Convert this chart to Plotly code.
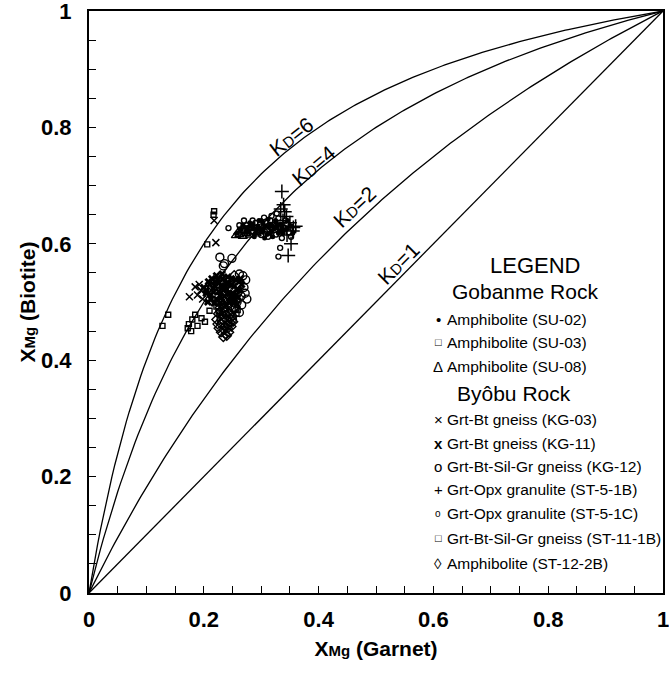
import plotly.graph_objects as go

# ---------------- data ----------------
su02_x = [0.265,0.272,0.278,0.283,0.288,0.294,0.298,0.303,0.308,0.313,0.318,0.323,0.328,0.333,0.338,
          0.290,0.302,0.315,0.325,0.310,0.296,0.280,0.334,0.345,0.320,0.306,
          0.258,0.262,0.268,0.274,0.286,0.292,0.300,0.312,0.320,0.330,0.340,0.350,0.355,0.276,0.288,
          0.304,0.316,0.326,0.336,0.346]
su02_y = [0.625,0.628,0.622,0.630,0.626,0.630,0.625,0.636,0.630,0.628,0.622,0.626,0.630,0.622,0.618,
          0.618,0.620,0.634,0.640,0.616,0.640,0.636,0.634,0.626,0.612,0.610,
          0.618,0.626,0.632,0.620,0.634,0.624,0.640,0.642,0.630,0.618,0.624,0.632,0.618,0.628,0.612,
          0.626,0.618,0.636,0.628,0.640]

su03_x = [0.217,0.218,0.222,0.226,0.232,0.238]
su03_y = [0.650,0.656,0.492,0.484,0.500,0.480]

su08_x = [0.256,0.262,0.268,0.274,0.280,0.286,0.292,0.298,0.270,0.284,0.260,0.304]
su08_y = [0.614,0.616,0.613,0.618,0.615,0.620,0.617,0.622,0.622,0.626,0.620,0.624]

kg03_x = [0.185,0.175,0.189,0.195,0.198,0.218,0.221,0.192]
kg03_y = [0.526,0.509,0.512,0.520,0.505,0.640,0.602,0.530]

kg11_x = [0.205,0.210,0.212,0.216,0.220,0.222,0.226,0.230,0.233,0.236,0.240,0.243,0.246,0.250,0.253,
          0.256,0.260,0.263,0.266,0.228,0.238,0.218,0.248,0.258,0.214,
          0.200,0.204,0.208,0.213,0.219,0.224,0.229,0.234,0.239,0.244,0.249,0.254,0.259,0.264,0.207,
          0.217,0.227,0.237,0.247,0.257,0.222,0.232,0.242,0.252,0.262]
kg11_y = [0.520,0.530,0.512,0.524,0.535,0.505,0.518,0.528,0.540,0.510,0.522,0.532,0.500,0.515,0.527,
          0.538,0.508,0.520,0.530,0.498,0.495,0.498,0.540,0.496,0.540,
          0.525,0.515,0.535,0.505,0.528,0.538,0.510,0.520,0.532,0.515,0.530,0.505,0.522,0.540,0.500,
          0.517,0.533,0.525,0.508,0.512,0.545,0.548,0.543,0.500,0.535]

kg12_x = [0.228,0.249,0.234,0.236,0.273,0.268,0.262,0.270,0.265,0.258,0.255,0.262,0.250,0.245,0.240,
          0.235,0.272,0.230,0.242,0.266,0.258,0.248,0.275]
kg12_y = [0.577,0.575,0.562,0.566,0.538,0.545,0.548,0.525,0.510,0.500,0.490,0.482,0.470,0.480,0.505,
          0.490,0.515,0.470,0.460,0.495,0.530,0.520,0.505]

st51b_x = [0.336,0.339,0.341,0.344,0.338,0.350,0.356,0.360,0.347,0.352,0.330,0.320,0.345,0.355,0.334]
st51b_y = [0.690,0.667,0.655,0.647,0.640,0.636,0.628,0.630,0.580,0.600,0.625,0.630,0.615,0.622,0.660]

st51c_x = [0.243,0.327,0.333,0.330,0.262,0.270,0.280,0.290,0.300,0.310,0.316,0.322,0.305,0.295,0.285,
           0.340,0.348,0.312,0.326,0.336,0.275,0.318,0.300,0.342,0.352,
           0.268,0.284,0.298,0.314,0.330,0.344,0.356,0.292,0.308,0.324]
st51c_y = [0.627,0.652,0.593,0.578,0.632,0.640,0.628,0.636,0.630,0.624,0.640,0.632,0.645,0.620,0.640,
           0.628,0.620,0.612,0.616,0.610,0.632,0.648,0.615,0.640,0.612,
           0.626,0.622,0.634,0.632,0.644,0.634,0.625,0.628,0.638,0.624]

st111b_x = [0.128,0.138,0.172,0.174,0.180,0.189,0.185,0.202,0.257,0.259,0.206,0.178,0.196,0.210]
st111b_y = [0.459,0.478,0.455,0.462,0.470,0.459,0.478,0.466,0.480,0.486,0.599,0.450,0.472,0.485]

st122b_x = [0.253,0.225,0.230,0.235,0.238,0.242,0.246,0.250,0.228,0.240,0.232,0.244,0.236,0.248,0.222,
            0.252,0.226,0.234,0.240,0.245,
            0.228,0.233,0.238,0.243,0.248,0.230,0.236,0.241,0.246,0.251,0.224,0.229,0.234,0.239,0.244]
st122b_y = [0.546,0.480,0.462,0.452,0.445,0.455,0.465,0.475,0.490,0.470,0.478,0.448,0.485,0.458,0.470,
            0.488,0.455,0.468,0.442,0.490,
            0.500,0.495,0.505,0.498,0.502,0.448,0.458,0.462,0.472,0.466,0.462,0.485,0.440,0.478,0.482]

kd_values = [1, 2, 4, 6]
kd_label_pos = {6: (0.353, 0.784, -38), 4: (0.391, 0.735, -40), 2: (0.463, 0.664, -43), 1: (0.539, 0.566, -45)}

x_ticks = [0, 0.2, 0.4, 0.6, 0.8, 1]
x_ticktext = ["0", "0.2", "0.4", "0.6", "0.8", "1"]

legend_rows = [
    ("•", "Amphibolite (SU-02)"),
    ("<span style='font-size:11px'>□</span>", "Amphibolite (SU-03)"),
    ("Δ", "Amphibolite (SU-08)"),
    ("×", "Grt-Bt gneiss (KG-03)"),
    ("<b>x</b>", "Grt-Bt gneiss (KG-11)"),
    ("o", "Grt-Bt-Sil-Gr gneiss (KG-12)"),
    ("+", "Grt-Opx granulite (ST-5-1B)"),
    ("<span style='font-size:10px'>o</span>", "Grt-Opx granulite (ST-5-1C)"),
    ("<span style='font-size:11px'>□</span>", "Grt-Bt-Sil-Gr gneiss (ST-11-1B)"),
    ("◊", "Amphibolite (ST-12-2B)"),
]
legend_row_py = [319, 342, 366, 420, 443, 466, 489, 513, 538, 563]

# ---------------- figure ----------------
fig = go.Figure()

# KD reference curves
n = 201
xs = [i / (n - 1) for i in range(n)]
for kd in kd_values:
    ys = [kd * x / (1 + (kd - 1) * x) for x in xs]
    fig.add_trace(go.Scatter(x=xs, y=ys, mode="lines", line=dict(color="black", width=1.3),
                             hoverinfo="skip", showlegend=False))

def add_pts(xv, yv, symbol, size, lw=1.4):
    fig.add_trace(go.Scatter(x=xv, y=yv, mode="markers", showlegend=False,
                             marker=dict(symbol=symbol, size=size, color="black",
                                         line=dict(color="black", width=lw))))

add_pts(st122b_x, st122b_y, "diamond-open", 7)
add_pts(kg12_x, kg12_y, "circle-open", 8)
add_pts(kg11_x, kg11_y, "x", 7, 0)
add_pts(kg03_x, kg03_y, "x-thin-open", 7, 1.5)
add_pts(st111b_x, st111b_y, "square-open", 5)
add_pts(su03_x, su03_y, "square-open", 5)
add_pts(su08_x, su08_y, "triangle-up-open", 8)
add_pts(st51c_x, st51c_y, "circle-open", 5)
add_pts(su02_x, su02_y, "circle", 5, 0)
add_pts(st51b_x, st51b_y, "cross-thin-open", 10, 1.5)

FONT = "Liberation Sans, Arial, sans-serif"

annotations = []
for kd, (ax_, ay_, ang) in kd_label_pos.items():
    annotations.append(dict(x=ax_, y=ay_, xref="x", yref="y", showarrow=False, textangle=ang,
                            text=f"K<span style='font-size:15px'>D</span>={kd}",
                            font=dict(family=FONT, size=21, color="black")))

# legend built from text (as in original)
def py2paper(py):
    return (593 - py) / 582.0

def px2paper(px):
    return (px - 89) / 574.0

annotations.append(dict(x=px2paper(535), y=py2paper(265), xref="paper", yref="paper", showarrow=False,
                        text="LEGEND", xanchor="center", yanchor="middle",
                        font=dict(family=FONT, size=22, color="black")))
annotations.append(dict(x=px2paper(450), y=py2paper(292), xref="paper", yref="paper", showarrow=False,
                        text="Gobanme Rock", xanchor="left", yanchor="middle",
                        font=dict(family=FONT, size=21, color="black")))
annotations.append(dict(x=px2paper(455), y=py2paper(393), xref="paper", yref="paper", showarrow=False,
                        text="Byôbu Rock", xanchor="left", yanchor="middle",
                        font=dict(family=FONT, size=21, color="black")))
for (sym, label), ry in zip(legend_rows, legend_row_py):
    annotations.append(dict(x=px2paper(438), y=py2paper(ry), xref="paper", yref="paper", showarrow=False,
                            text=sym, xanchor="center", yanchor="middle",
                            font=dict(family=FONT, size=15, color="black")))
    annotations.append(dict(x=px2paper(445), y=py2paper(ry), xref="paper", yref="paper", showarrow=False,
                            text=label, xanchor="left", yanchor="middle",
                            font=dict(family=FONT, size=15.5, color="black")))

axis_common = dict(range=[0, 1], showgrid=False, zeroline=False, showline=True, linecolor="black",
                   linewidth=2, mirror=True, ticks="inside", ticklen=7, tickwidth=1.2, tickcolor="black",
                   tickvals=x_ticks, ticktext=x_ticktext, ticklabeloverflow="allow", automargin=False,
                   tickfont=dict(family=FONT, size=22, color="black", weight="bold"),
                   minor=dict(dtick=0.05, tick0=0, ticks="inside", ticklen=7, tickwidth=1.2, tickcolor="black"))

fig.update_layout(
    width=669, height=674,
    margin=dict(l=89, r=6, t=11, b=81, autoexpand=False),
    plot_bgcolor="white", paper_bgcolor="white",
    showlegend=False,
    annotations=annotations,
    xaxis=dict(**axis_common, ticklabelstandoff=6,
               title=dict(text="X<span style='font-size:15px'>Mg</span> (Garnet)", standoff=10,
                          font=dict(family=FONT, size=21, color="black", weight="bold"))),
    yaxis=dict(**axis_common, ticklabelstandoff=11,
               title=dict(text="X<span style='font-size:15px'>Mg</span> (Biotite)", standoff=0,
                          font=dict(family=FONT, size=21, color="black", weight="bold"))),
)

fig.write_html("out.html", config={"displayModeBar": False},
               post_script="document.body.style.margin='0';document.body.style.overflow='hidden';")
